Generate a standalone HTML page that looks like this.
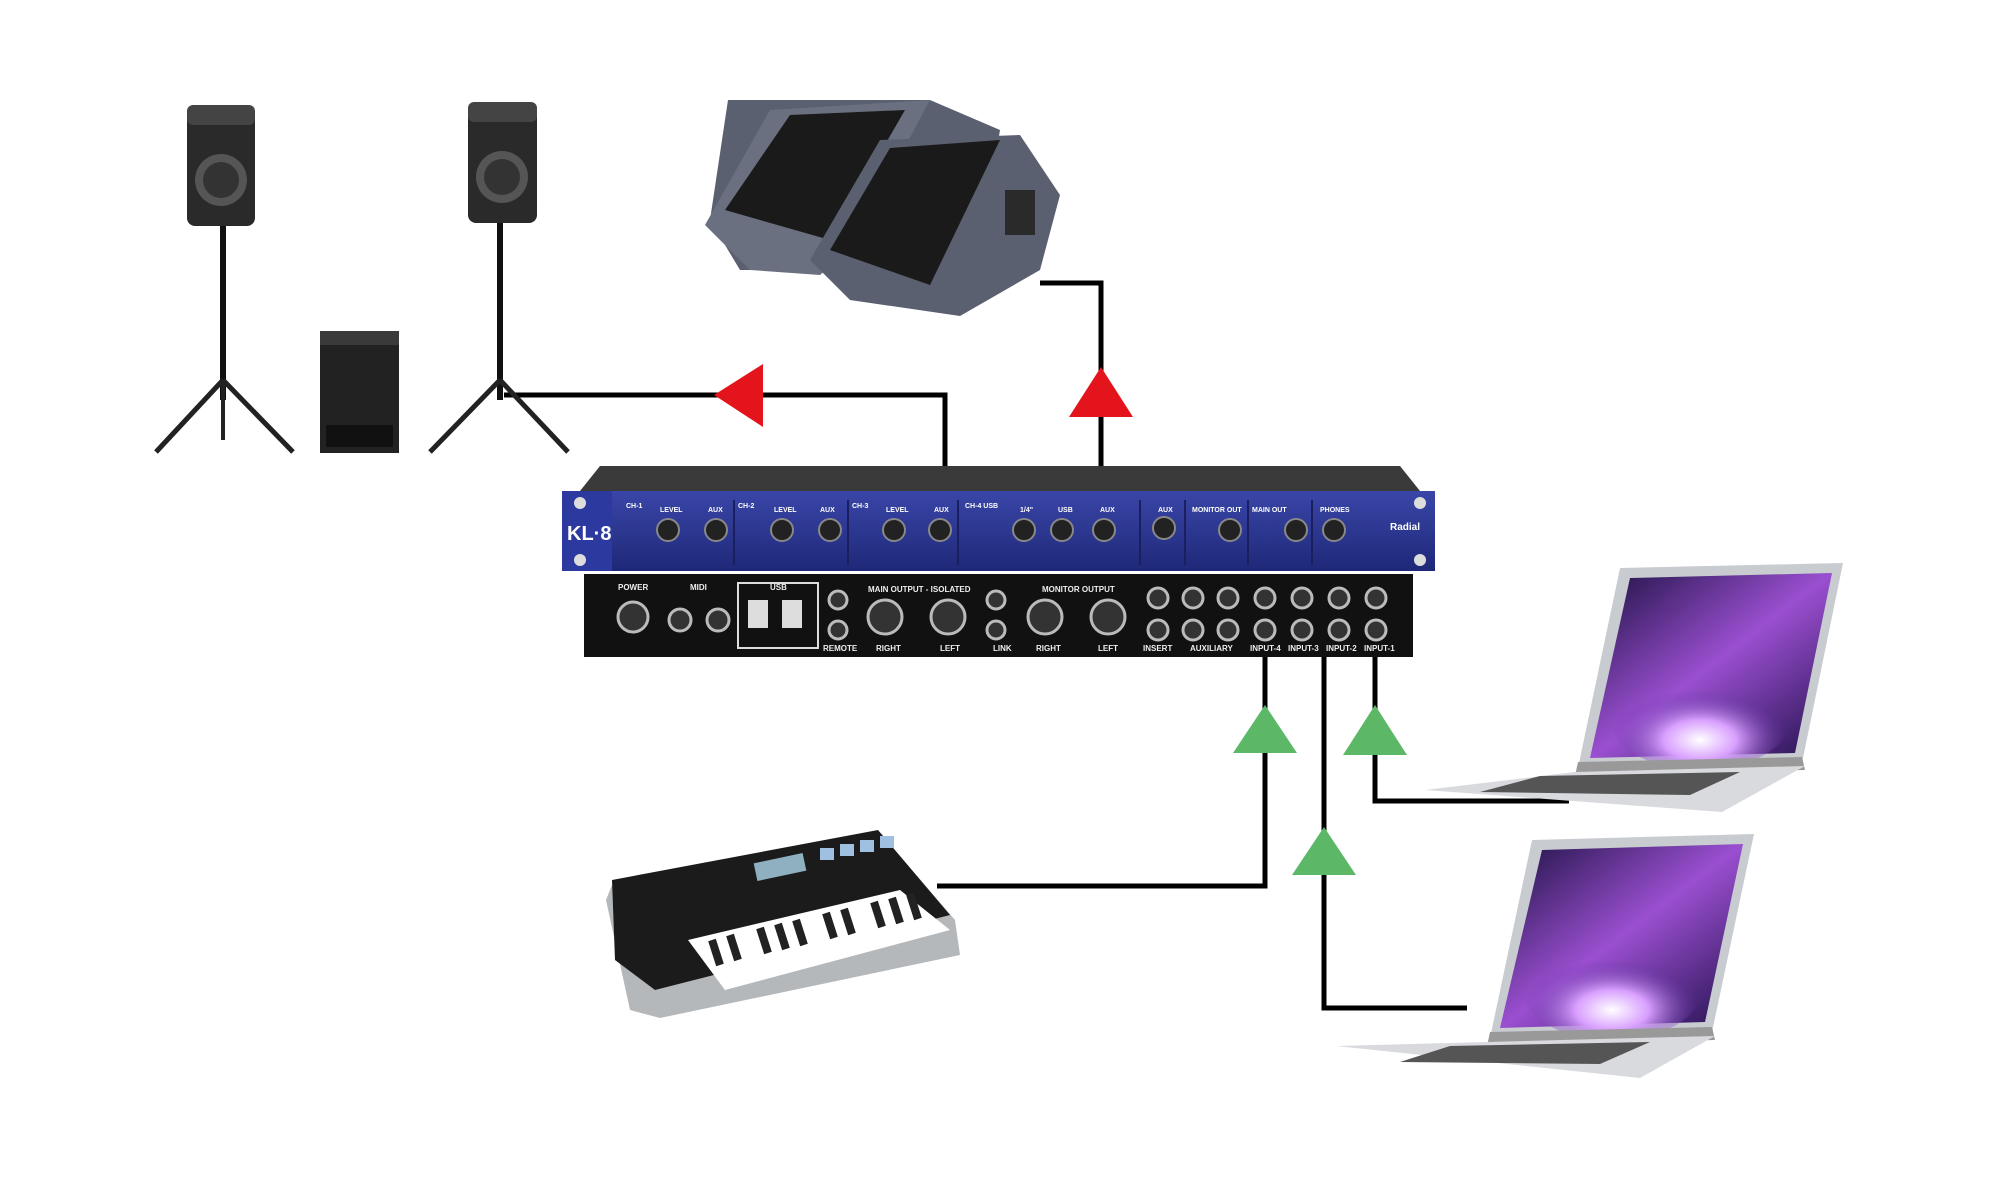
<!DOCTYPE html>
<html><head><meta charset="utf-8"><style>
html,body{margin:0;padding:0;background:#fff;}
svg{display:block;}
text{font-family:"Liberation Sans",sans-serif;font-weight:bold;}
</style></head><body>
<svg width="2000" height="1187" viewBox="0 0 2000 1187" xmlns="http://www.w3.org/2000/svg">
<defs>
<linearGradient id="scr" x1="0" y1="0" x2="1" y2="1">
<stop offset="0" stop-color="#1a1040"/><stop offset="0.5" stop-color="#9a4fd0"/><stop offset="1" stop-color="#20104a"/></linearGradient>
<radialGradient id="glow" cx="0.5" cy="0.7" r="0.5"><stop offset="0" stop-color="#fff"/><stop offset="0.4" stop-color="#d9a0ff"/><stop offset="1" stop-color="#5a2a9a" stop-opacity="0"/></radialGradient>
<linearGradient id="blue" x1="0" y1="0" x2="0" y2="1"><stop offset="0" stop-color="#3a46a8"/><stop offset="1" stop-color="#1e2878"/></linearGradient>
</defs>

<!-- connector lines -->
<g stroke="#000" stroke-width="5" fill="none">
<polyline points="945,466 945,395 504,395"/>
<polyline points="1101,466 1101,283 1040,283"/>
<polyline points="1265,657 1265,886 937,886"/>
<polyline points="1375,657 1375,801 1569,801"/>
<polyline points="1324,657 1324,1008 1467,1008"/>
</g>

<!-- left speaker -->
<g>
<line x1="223" y1="226" x2="223" y2="400" stroke="#111" stroke-width="6"/>
<line x1="223" y1="380" x2="156" y2="452" stroke="#222" stroke-width="5"/>
<line x1="223" y1="380" x2="293" y2="452" stroke="#222" stroke-width="5"/>
<line x1="223" y1="380" x2="223" y2="440" stroke="#222" stroke-width="4"/>
<rect x="187" y="105" width="68" height="121" rx="8" fill="#2a2a2a"/>
<rect x="187" y="105" width="68" height="20" rx="6" fill="#444"/>
<circle cx="221" cy="180" r="26" fill="#555"/><circle cx="221" cy="180" r="18" fill="#333"/>
</g>
<!-- right speaker -->
<g>
<line x1="500" y1="223" x2="500" y2="400" stroke="#111" stroke-width="6"/>
<line x1="500" y1="380" x2="430" y2="452" stroke="#222" stroke-width="5"/>
<line x1="500" y1="380" x2="568" y2="452" stroke="#222" stroke-width="5"/>
<rect x="468" y="102" width="69" height="121" rx="8" fill="#2a2a2a"/>
<rect x="468" y="102" width="69" height="20" rx="6" fill="#444"/>
<circle cx="502" cy="177" r="26" fill="#555"/><circle cx="502" cy="177" r="18" fill="#333"/>
</g>
<!-- sub -->
<rect x="320" y="331" width="79" height="122" fill="#222"/>
<rect x="320" y="331" width="79" height="14" fill="#3a3a3a"/>
<rect x="326" y="425" width="67" height="22" fill="#111"/>

<!-- monitor wedges -->
<g>
<polygon points="728,100 930,100 1000,130 990,190 920,270 740,270 710,220" fill="#5a6070"/>
<polygon points="705,225 770,110 930,100 850,250 820,275 750,270" fill="#6a7080"/>
<polygon points="725,210 790,115 905,110 830,240" fill="#1a1a1a"/>
<polygon points="810,260 880,140 1020,135 1060,195 1040,270 960,316 850,300" fill="#5a6070"/>
<polygon points="830,250 890,148 1000,140 930,285" fill="#1a1a1a"/>
<rect x="1005" y="190" width="30" height="45" fill="#2a2a2a"/>
</g>

<!-- rack front -->
<polygon points="600,466 1400,466 1420,491 580,491" fill="#3a3a3a"/>
<rect x="562" y="491" width="873" height="80" fill="url(#blue)"/>
<rect x="562" y="491" width="50" height="80" fill="#2c3aa0"/>
<text x="567" y="540" font-size="20" fill="#fff">KL·8</text>
<g fill="#ddd">
<circle cx="580" cy="503" r="6"/><circle cx="580" cy="560" r="6"/>
<circle cx="1420" cy="503" r="6"/><circle cx="1420" cy="560" r="6"/>
</g>
<g fill="#222" stroke="#888" stroke-width="2">
<circle cx="668" cy="530" r="11"/><circle cx="716" cy="530" r="11"/>
<circle cx="782" cy="530" r="11"/><circle cx="830" cy="530" r="11"/>
<circle cx="894" cy="530" r="11"/><circle cx="940" cy="530" r="11"/>
<circle cx="1024" cy="530" r="11"/><circle cx="1062" cy="530" r="11"/><circle cx="1104" cy="530" r="11"/>
<circle cx="1164" cy="528" r="11"/><circle cx="1230" cy="530" r="11"/><circle cx="1296" cy="530" r="11"/><circle cx="1334" cy="530" r="11"/>
</g>
<g stroke="#1a1f60" stroke-width="2">
<line x1="734" y1="500" x2="734" y2="565"/><line x1="848" y1="500" x2="848" y2="565"/>
<line x1="958" y1="500" x2="958" y2="565"/><line x1="1140" y1="500" x2="1140" y2="565"/>
<line x1="1185" y1="500" x2="1185" y2="565"/><line x1="1248" y1="500" x2="1248" y2="565"/>
<line x1="1312" y1="500" x2="1312" y2="565"/>
</g>
<g font-size="7" fill="#fff">
<text x="626" y="508">CH-1</text><text x="660" y="512">LEVEL</text><text x="708" y="512">AUX</text>
<text x="738" y="508">CH-2</text><text x="774" y="512">LEVEL</text><text x="820" y="512">AUX</text>
<text x="852" y="508">CH-3</text><text x="886" y="512">LEVEL</text><text x="934" y="512">AUX</text>
<text x="965" y="508">CH-4 USB</text><text x="1020" y="512">1/4"</text><text x="1058" y="512">USB</text><text x="1100" y="512">AUX</text>
<text x="1158" y="512">AUX</text><text x="1192" y="512">MONITOR OUT</text><text x="1252" y="512">MAIN OUT</text><text x="1320" y="512">PHONES</text>
<text x="1390" y="530" font-size="10">Radial</text>
</g>

<!-- rear panel -->
<rect x="584" y="574" width="829" height="83" fill="#111"/>
<g fill="#eee" font-size="8">
<text x="618" y="590">POWER</text><text x="690" y="590">MIDI</text><text x="770" y="590">USB</text>
<text x="868" y="592">MAIN OUTPUT - ISOLATED</text><text x="1042" y="592">MONITOR OUTPUT</text>
<text x="823" y="651">REMOTE</text><text x="876" y="651">RIGHT</text><text x="940" y="651">LEFT</text>
<text x="993" y="651">LINK</text><text x="1036" y="651">RIGHT</text><text x="1098" y="651">LEFT</text>
<text x="1143" y="651">INSERT</text><text x="1190" y="651">AUXILIARY</text>
<text x="1250" y="651">INPUT-4</text><text x="1288" y="651">INPUT-3</text><text x="1326" y="651">INPUT-2</text><text x="1364" y="651">INPUT-1</text>
</g>
<rect x="738" y="583" width="80" height="65" fill="none" stroke="#ddd" stroke-width="2"/>
<g fill="#333" stroke="#bbb" stroke-width="3">
<circle cx="633" cy="617" r="15"/><circle cx="680" cy="620" r="11"/><circle cx="718" cy="620" r="11"/>
<circle cx="885" cy="617" r="17"/><circle cx="948" cy="617" r="17"/>
<circle cx="1045" cy="617" r="17"/><circle cx="1108" cy="617" r="17"/>
<circle cx="838" cy="600" r="9"/><circle cx="838" cy="630" r="9"/>
<circle cx="996" cy="600" r="9"/><circle cx="996" cy="630" r="9"/>
<circle cx="1158" cy="598" r="10"/><circle cx="1158" cy="630" r="10"/>
<circle cx="1193" cy="598" r="10"/><circle cx="1193" cy="630" r="10"/>
<circle cx="1228" cy="598" r="10"/><circle cx="1228" cy="630" r="10"/>
<circle cx="1265" cy="598" r="10"/><circle cx="1265" cy="630" r="10"/>
<circle cx="1302" cy="598" r="10"/><circle cx="1302" cy="630" r="10"/>
<circle cx="1339" cy="598" r="10"/><circle cx="1339" cy="630" r="10"/>
<circle cx="1376" cy="598" r="10"/><circle cx="1376" cy="630" r="10"/>
</g>
<rect x="748" y="600" width="20" height="28" fill="#ddd"/><rect x="782" y="600" width="20" height="28" fill="#ddd"/>

<!-- laptop 1 -->
<polygon points="1620,568 1843,563 1802,763 1578,768" fill="#c8ccd0"/>
<polygon points="1630,578 1832,573 1795,753 1590,758" fill="url(#scr)"/>
<ellipse cx="1700" cy="720" rx="90" ry="50" fill="url(#glow)"/>
<polygon points="1578,762 1802,757 1805,770 1575,776" fill="#999"/>
<polygon points="1575,772 1805,766 1722,812 1425,790" fill="#d8dade"/>
<polygon points="1540,776 1740,772 1690,795 1480,792" fill="#555"/>
<!-- laptop 2 -->
<polygon points="1532,840 1754,834 1712,1032 1490,1038" fill="#c8ccd0"/>
<polygon points="1542,850 1743,844 1705,1022 1500,1028" fill="url(#scr)"/>
<ellipse cx="1612" cy="990" rx="90" ry="50" fill="url(#glow)"/>
<polygon points="1490,1032 1712,1027 1715,1040 1487,1046" fill="#999"/>
<polygon points="1487,1042 1715,1036 1640,1078 1336,1046" fill="#d8dade"/>
<polygon points="1450,1046 1650,1042 1600,1064 1400,1062" fill="#555"/>

<!-- keyboard -->
<g>
<polygon points="612,885 880,833 955,920 960,955 660,1018 630,1010 606,900" fill="#b5b8bb"/>
<polygon points="612,880 878,830 950,915 655,990 615,960" fill="#1b1b1b"/>
<polygon points="688,940 900,890 950,930 725,990" fill="#fff"/>
<g stroke="#222" stroke-width="8">
<line x1="712" y1="940" x2="720" y2="965"/><line x1="730" y1="935" x2="738" y2="960"/>
<line x1="760" y1="928" x2="768" y2="953"/><line x1="778" y1="924" x2="786" y2="949"/>
<line x1="796" y1="920" x2="804" y2="945"/><line x1="826" y1="913" x2="834" y2="938"/>
<line x1="844" y1="909" x2="852" y2="934"/><line x1="874" y1="902" x2="882" y2="927"/>
<line x1="892" y1="898" x2="900" y2="923"/><line x1="910" y1="894" x2="918" y2="919"/>
</g>
<rect x="755" y="858" width="50" height="18" fill="#8fb0c0" transform="rotate(-12 780 867)"/>
<g fill="#9fc0e0"><rect x="820" y="848" width="14" height="12"/><rect x="840" y="844" width="14" height="12"/><rect x="860" y="840" width="14" height="12"/><rect x="880" y="836" width="14" height="12"/></g>
</g>

<!-- arrows -->
<polygon points="714,395 763,364 763,427" fill="#e3141c"/>
<polygon points="1101,367 1133,417 1069,417" fill="#e3141c"/>
<polygon points="1265,705 1297,753 1233,753" fill="#5cb866"/>
<polygon points="1375,705 1407,755 1343,755" fill="#5cb866"/>
<polygon points="1324,827 1356,875 1292,875" fill="#5cb866"/>
</svg>
</body></html>
